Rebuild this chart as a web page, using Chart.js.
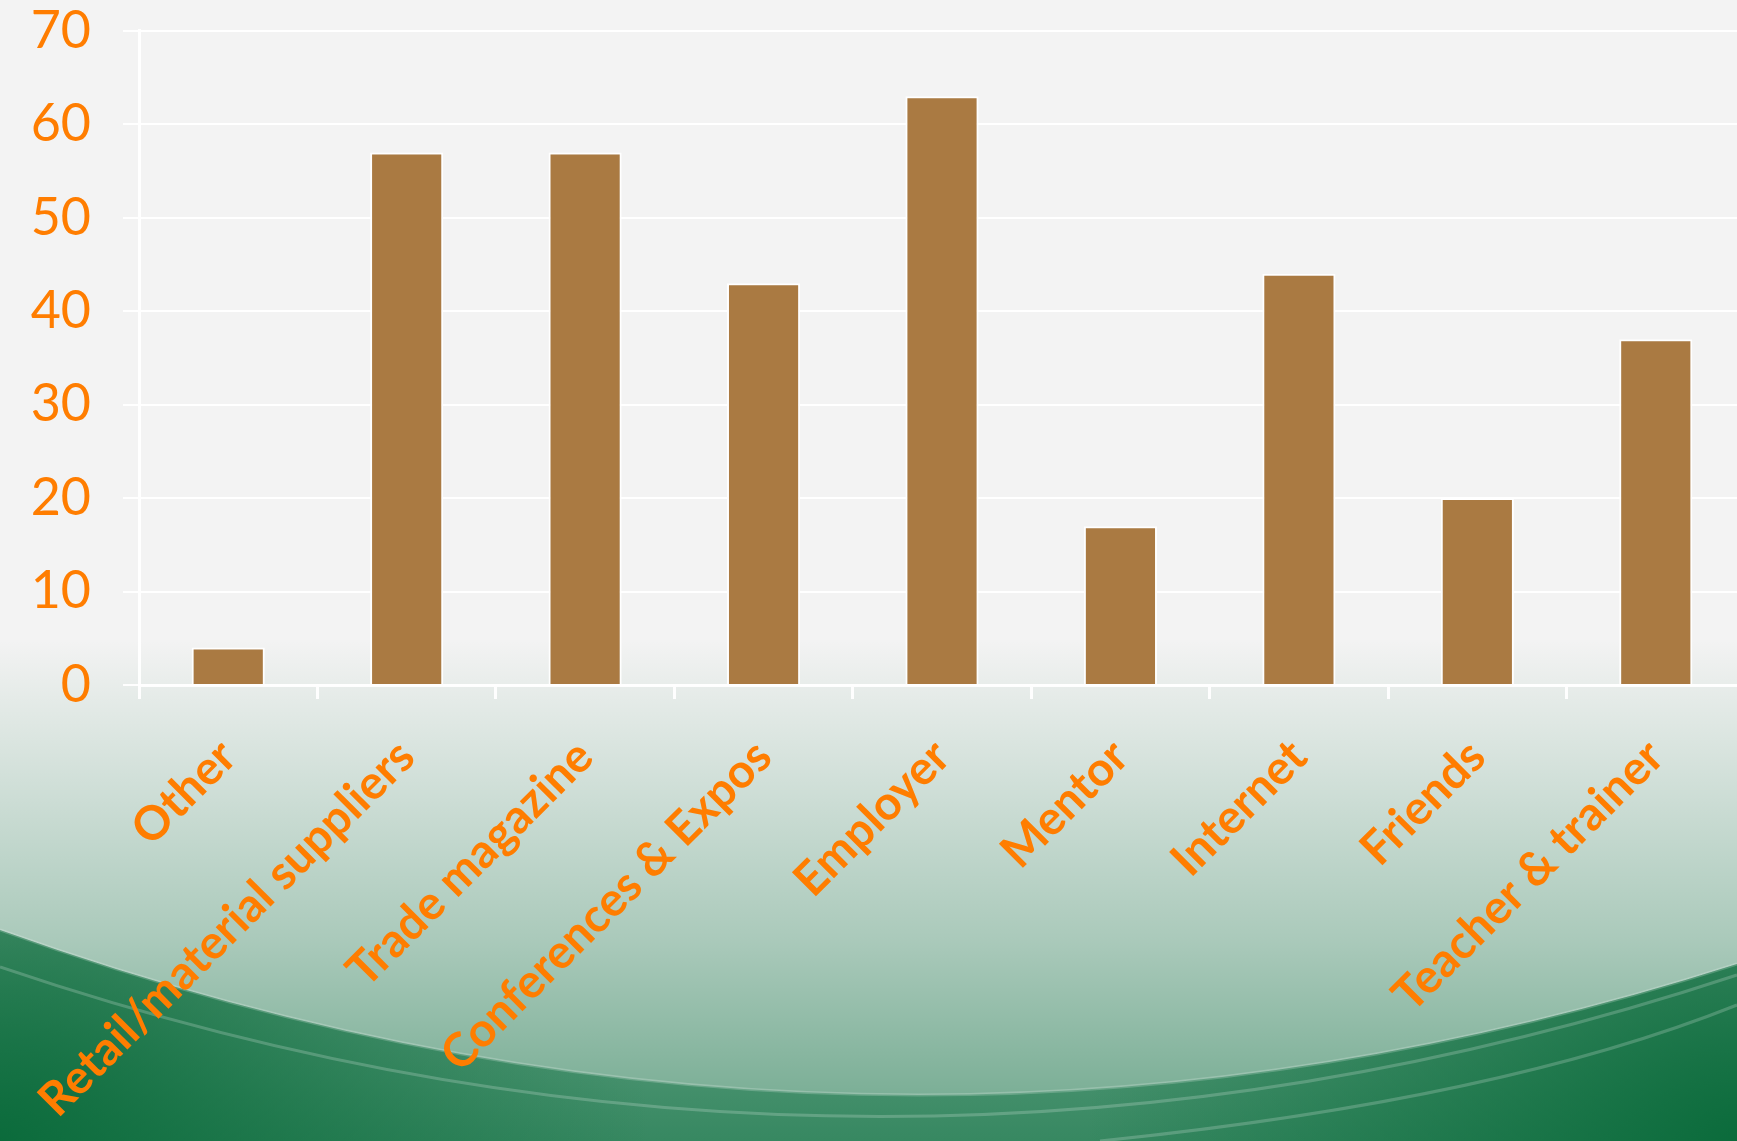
<!DOCTYPE html>
<html>
<head>
<meta charset="utf-8">
<title>Sources</title>
<script src="https://cdn.jsdelivr.net/npm/chart.js@4.4.0/dist/chart.umd.min.js"></script>
<style>
  html, body { margin: 0; padding: 0; background: #f3f3f3; overflow: hidden; }
  /* el lienzo sobresale un poco arriba y a la derecha, como en el original */
  #wrap { width: 1745px; height: 1172px; position: relative; margin-top: -31px; }
</style>
</head>
<body>
<div id="wrap"><canvas id="chart"></canvas></div>
<script>
// Datos
const categories = ['Other', 'Retail/material suppliers', 'Trade magazine', 'Conferences & Expos',
    'Employer', 'Mentor', 'Internet', 'Friends', 'Teacher & trainer'];
const counts = [4, 57, 57, 43, 63, 17, 44, 20, 37];
const yTicks = [0, 10, 20, 30, 40, 50, 60, 70];

const ORANGE = '#ff7d00';
const BAR = '#aa7a42';
const LINE = 'rgba(255,255,255,0.95)';
const SHIFT = 31;

// Fondo gris con el degradado verde abajo
const backdrop = {
    id: 'backdrop',
    beforeDraw(chart) {
        const ctx = chart.ctx;
        const w = 1737, h = 1141;
        ctx.save();
        ctx.fillStyle = '#f3f3f3';
        ctx.fillRect(0, 0, chart.width, chart.height);
        ctx.translate(0, SHIFT);

        let g = ctx.createLinearGradient(0, 640, 0, h);
        g.addColorStop(0, 'rgba(0,105,55,0)');
        g.addColorStop(0.6, 'rgba(0,105,55,0.3)');
        g.addColorStop(1, 'rgba(0,105,55,0.55)');
        ctx.fillStyle = g;
        ctx.fillRect(0, 0, chart.width, h);

        // banda oscura bajo la curva
        ctx.beginPath();
        ctx.moveTo(0, 930);
        ctx.quadraticCurveTo(w * 0.5, 1242, w, 964);
        ctx.lineTo(chart.width, 964);
        ctx.lineTo(chart.width, h);
        ctx.lineTo(0, h);
        ctx.closePath();
        ctx.save();
        ctx.clip();
        g = ctx.createLinearGradient(0, 930, 0, h);
        g.addColorStop(0, 'rgba(0,105,55,0.35)');
        g.addColorStop(1, 'rgba(0,105,55,0.5)');
        ctx.fillStyle = g;
        ctx.fillRect(0, 900, chart.width, h);
        [[0, h], [w, h]].forEach(([cx, cy]) => {
            const r = ctx.createRadialGradient(cx, cy, 0, cx, cy, 650);
            r.addColorStop(0, 'rgba(0,100,50,0.8)');
            r.addColorStop(1, 'rgba(0,100,50,0)');
            ctx.fillStyle = r;
            ctx.fillRect(0, 900, chart.width, h);
        });
        ctx.restore();

        // líneas claras
        ctx.strokeStyle = 'rgba(255,255,255,0.2)';
        ctx.lineWidth = 3;
        ctx.beginPath();
        ctx.moveTo(0, 930);
        ctx.quadraticCurveTo(w * 0.5, 1242, w, 964);
        ctx.stroke();
        ctx.beginPath();
        ctx.moveTo(0, 967);
        ctx.quadraticCurveTo(w * 0.5, 1262, w, 975);
        ctx.stroke();
        ctx.beginPath();
        ctx.moveTo(1100, h);
        ctx.quadraticCurveTo(1500, 1100, w, 1005);
        ctx.stroke();
        ctx.restore();
    }
};

const ctx = document.getElementById('chart').getContext('2d');
new Chart(ctx, {
    type: 'bar',
    data: {
        labels: categories,
        datasets: [{
            data: counts,
            backgroundColor: BAR,
            borderColor: LINE,
            borderWidth: 2,
            categoryPercentage: 1,
            barPercentage: 0.41
        }]
    },
    plugins: [backdrop],
    options: {
        responsive: true,
        maintainAspectRatio: false,
        animation: false,
        layout: { padding: 0 },
        plugins: {
            legend: { display: false },
            tooltip: { enabled: false }
        },
        scales: {
            x: {
                grid: {
                    drawOnChartArea: false,
                    color: LINE,
                    lineWidth: 3,
                    tickLength: 14
                },
                border: { color: LINE, width: 3 },
                ticks: {
                    color: ORANGE,
                    minRotation: 45,
                    maxRotation: 45,
                    autoSkip: false,
                    padding: 30,
                    font: { family: 'Lato', size: 47, weight: 'bold' }
                },
                afterFit(scale) { scale.height = 456; }
            },
            y: {
                min: 0,
                max: 70,
                afterBuildTicks(scale) { scale.ticks = yTicks.map(v => ({ value: v })); },
                grid: {
                    color: LINE,
                    lineWidth: 2,
                    tickLength: 16
                },
                border: { color: LINE, width: 3 },
                ticks: {
                    color: ORANGE,
                    padding: 32,
                    font: { family: 'Lato', size: 52, weight: 'normal', lineHeight: 1.15 }
                },
                afterFit(scale) { scale.width = 139; }
            }
        }
    }
});
</script>
</body>
</html>
